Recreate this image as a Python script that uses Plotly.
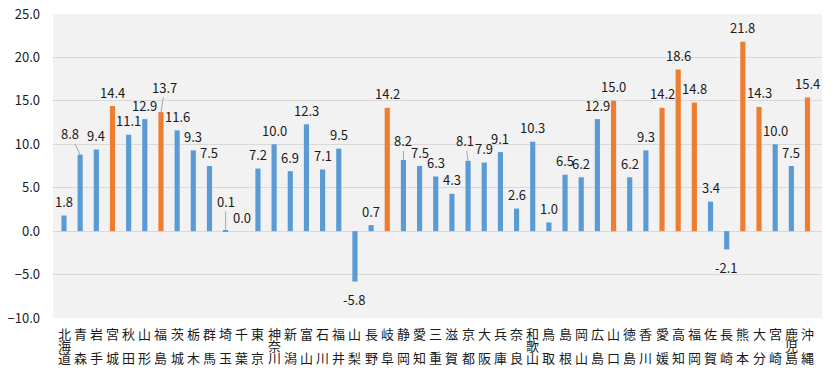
import plotly.graph_objects as go

prefectures = ["北海道", "青森", "岩手", "宮城", "秋田", "山形", "福島", "茨城", "栃木", "群馬",
               "埼玉", "千葉", "東京", "神奈川", "新潟", "富山", "石川", "福井", "山梨", "長野",
               "岐阜", "静岡", "愛知", "三重", "滋賀", "京都", "大阪", "兵庫", "奈良", "和歌山",
               "鳥取", "島根", "岡山", "広島", "山口", "徳島", "香川", "愛媛", "高知", "福岡",
               "佐賀", "長崎", "熊本", "大分", "宮崎", "鹿児島", "沖縄"]
values = [1.8, 8.8, 9.4, 14.4, 11.1, 12.9, 13.7, 11.6, 9.3, 7.5,
          0.1, 0.0, 7.2, 10.0, 6.9, 12.3, 7.1, 9.5, -5.8, 0.7,
          14.2, 8.2, 7.5, 6.3, 4.3, 8.1, 7.9, 9.1, 2.6, 10.3,
          1.0, 6.5, 6.2, 12.9, 15.0, 6.2, 9.3, 14.2, 18.6, 14.8,
          3.4, -2.1, 21.8, 14.3, 10.0, 7.5, 15.4]
highlighted = ["宮城", "福島", "岐阜", "山口", "愛媛", "高知", "福岡", "熊本", "大分", "沖縄"]
y_ticks = [-10, -5, 0, 5, 10, 15, 20, 25]

BLUE = "#5B9BD5"
ORANGE = "#ED7D31"
TEXT = "#1a1a1a"
FONT = "Noto Sans CJK JP, Noto Sans, sans-serif"

# label placement style (pixel offsets of data labels that carry leader lines)
leader_offsets = {"青森": (-10, -21), "福島": (4, -25), "埼玉": (0, -29),
                  "静岡": (0, -19), "京都": (-3, -20)}

colors = [ORANGE if p in highlighted else BLUE for p in prefectures]

fig = go.Figure(go.Bar(
    x=prefectures, y=values, marker=dict(color=colors, line=dict(width=0)),
    hoverinfo="x+y",
))

annotations = []
for p, v in zip(prefectures, values):
    txt = f"{v:.1f}"
    if p in leader_offsets:
        ax, ay = leader_offsets[p]
        annotations.append(dict(
            x=p, y=v, xref="x", yref="y", text=txt, showarrow=True,
            arrowhead=0, arrowwidth=1, arrowcolor="#a6a6a6", ax=ax, ay=ay,
            standoff=0, font=dict(family=FONT, size=13, color=TEXT),
            borderpad=0))
    else:
        annotations.append(dict(
            x=p, y=v, xref="x", yref="y", text=txt, showarrow=False,
            yanchor="middle", yshift=(14 if v >= 0 else -18),
            font=dict(family=FONT, size=13, color=TEXT)))

# vertical category labels, one character per row
for p in prefectures:
    chars = list(p)
    rows = [0, 2] if len(chars) == 2 else list(range(len(chars)))
    for c, r in zip(chars, rows):
        annotations.append(dict(
            x=p, y=0, xref="x", yref="paper", text=c, showarrow=False,
            yanchor="middle", yshift=-15 - 12 * r,
            font=dict(family=FONT, size=13, color=TEXT)))

fig.update_layout(
    width=833, height=372,
    margin=dict(l=53, r=11, t=14, b=54, autoexpand=False),
    paper_bgcolor="white", plot_bgcolor="#f2f2f2",
    bargap=0.68, showlegend=False,
    annotations=annotations,
    font=dict(family=FONT, size=13, color=TEXT),
)
fig.update_xaxes(showticklabels=False, showgrid=False, zeroline=False,
                 showline=False, ticks="", automargin=False)
fig.update_yaxes(range=[-10, 25], tickvals=y_ticks, tickformat=".1f",
                 showgrid=True, gridcolor="#d9d9d9", gridwidth=1,
                 zeroline=True, zerolinecolor="#d9d9d9", zerolinewidth=1,
                 showline=False, ticks="", ticklabelstandoff=12, automargin=False,
                 tickfont=dict(family=FONT, size=13, color=TEXT))

fig.write_html("out.html", config={"displayModeBar": False},
               post_script="document.body.style.margin='0';document.body.style.overflow='hidden';")
